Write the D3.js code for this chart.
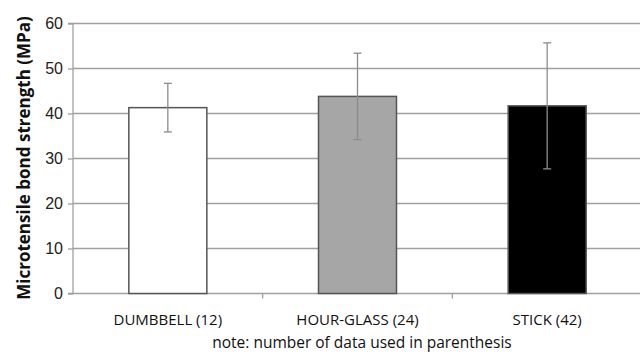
<!DOCTYPE html>
<html>
<head>
<meta charset="utf-8">
<script src="https://cdn.jsdelivr.net/npm/d3@7.9.0/dist/d3.min.js"></script>
<style>
  body { margin: 0; background: #fff; }
  svg { display: block; font-family: "Open Sans", "Liberation Sans", sans-serif; }
</style>
</head>
<body>
<svg id="chart" width="640" height="354"></svg>
<script>
// values
const categories = ["DUMBBELL (12)", "HOUR-GLASS (24)", "STICK (42)"];
const means = [41.3, 43.8, 41.7];
const errors = [5.4, 9.6, 14.0];
const barColors = ["#ffffff", "#a6a6a6", "#000000"];
const yTicks = [0, 10, 20, 30, 40, 50, 60];

const svg = d3.select("#chart");
const margin = { left: 73, right: -2, top: 23.5, bottom: 60.5 };
const width = 640 - margin.left - margin.right;
const height = 354 - margin.top - margin.bottom;

const g = svg.append("g").attr("transform", `translate(${margin.left},${margin.top})`);

const x = d3.scaleBand().domain(categories).range([0, width]).paddingInner(0).paddingOuter(0);
const y = d3.scaleLinear().domain([0, 60]).range([height, 0]);
const barW = 78;

// gridlines
g.selectAll(".grid")
  .data(yTicks.filter(t => t > 0))
  .join("line")
  .attr("x1", 0).attr("x2", width)
  .attr("y1", d => y(d)).attr("y2", d => y(d))
  .attr("stroke", "#a0a0a0").attr("stroke-width", 1.3);

// y axis
const yAxis = g.append("g").call(d3.axisLeft(y).tickValues(yTicks).tickSize(5).tickPadding(5));
yAxis.select(".domain").attr("stroke", "#a0a0a0").attr("stroke-width", 1.3).attr("d", `M-5,${height}H0V0H-5`);
yAxis.selectAll(".tick line").attr("stroke", "#a0a0a0").attr("stroke-width", 1.3);
yAxis.selectAll("text").attr("font-size", 16).attr("fill", "#222");

// x axis
const xAxis = g.append("g").attr("transform", `translate(0,${height})`);
xAxis.append("line").attr("x1", 0).attr("x2", width).attr("stroke", "#a0a0a0").attr("stroke-width", 1.3);
xAxis.selectAll(".xt")
  .data(categories.slice(1))
  .join("line")
  .attr("x1", d => x(d)).attr("x2", d => x(d))
  .attr("y1", 0).attr("y2", 5)
  .attr("stroke", "#a0a0a0").attr("stroke-width", 1.3);
xAxis.selectAll(".xl")
  .data(categories)
  .join("text")
  .attr("x", d => x(d) + x.bandwidth() / 2)
  .attr("y", 31)
  .attr("text-anchor", "middle")
  .attr("font-size", 15)
  .attr("fill", "#111")
  .text(d => d);

// bars
g.selectAll(".bar")
  .data(categories)
  .join("rect")
  .attr("x", d => x(d) + x.bandwidth() / 2 - barW / 2)
  .attr("width", barW)
  .attr("y", (d, i) => y(means[i]))
  .attr("height", (d, i) => height - y(means[i]))
  .attr("fill", (d, i) => barColors[i])
  .attr("stroke", "#555")
  .attr("stroke-width", 1.5);

// error bars
const eb = g.selectAll(".err").data(categories).join("g")
  .attr("transform", d => `translate(${x(d) + x.bandwidth() / 2},0)`);
eb.append("line")
  .attr("y1", (d, i) => y(means[i] + errors[i]))
  .attr("y2", (d, i) => y(means[i] - errors[i]))
  .attr("stroke", "#8c8c8c").attr("stroke-width", 1.3);
eb.append("line")
  .attr("x1", -4).attr("x2", 4)
  .attr("y1", (d, i) => y(means[i] + errors[i]))
  .attr("y2", (d, i) => y(means[i] + errors[i]))
  .attr("stroke", "#8c8c8c").attr("stroke-width", 1.3);
eb.append("line")
  .attr("x1", -4).attr("x2", 4)
  .attr("y1", (d, i) => y(means[i] - errors[i]))
  .attr("y2", (d, i) => y(means[i] - errors[i]))
  .attr("stroke", "#8c8c8c").attr("stroke-width", 1.3);

// y title
svg.append("text")
  .attr("transform", `translate(30,158) rotate(-90)`)
  .attr("text-anchor", "middle")
  .attr("font-size", 17)
  .attr("font-weight", "bold")
  .attr("fill", "#111")
  .text("Microtensile bond strength (MPa)");

// note
svg.append("text")
  .attr("x", 362).attr("y", 348)
  .attr("text-anchor", "middle")
  .attr("font-size", 15.5)
  .attr("fill", "#111")
  .text("note: number of data used in parenthesis");
</script>
</body>
</html>
